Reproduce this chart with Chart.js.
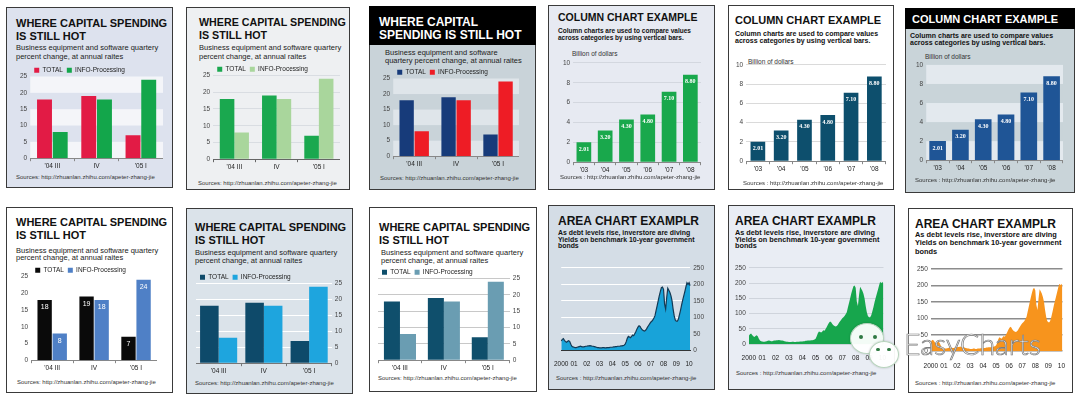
<!DOCTYPE html>
<html lang="en">
<head>
  <meta charset="UTF-8" />
  <title>Where capital spending is still hot - chart styles</title>
  <script src="https://cdn.jsdelivr.net/npm/chart.js"></script>
  <style>
    body {
      margin: 0;
      width: 1080px;
      height: 400px;
      overflow: hidden;
      position: relative;
      background: #fff;
      font-family: Arial, "Liberation Sans", sans-serif;
      color: #111;
    }
    .panel { position: absolute; box-sizing: border-box; border: 1px solid #3a3a3a; }
    .band { position: absolute; background: #000; }
    .t { position: absolute; white-space: nowrap; }
    .title { font-weight: bold; font-size: 11px; line-height: 13px; color: #111; }
    .sub { font-size: 7.5px; line-height: 9px; color: #222; }
    .bold { font-weight: bold; color: #111; }
    .unit { font-size: 6.5px; line-height: 7px; color: #333; }
    .src { font-size: 6px; line-height: 7px; color: #333; }
    .box { position: absolute; }
    .bubble { position: absolute; border-radius: 50%; background: rgba(255,255,255,0.95); border: 1px solid #b7d3bd; box-shadow: 0 0 2px rgba(0,0,0,0.25); }
    .eye { position: absolute; border-radius: 50%; background: #2f7a43; }
    .brand { position: absolute; left: 904px; top: 327px; font-family: Lato, "Open Sans", sans-serif; font-weight: 300; font-size: 28.5px; line-height: 34px; color: #fff; -webkit-text-stroke: 0.7px #7a7a7a; }
  </style>
</head>
<body>

  <!-- row 1 -->
  <div class="panel" style="left:6px;top:7px;width:167px;height:181px;background:#dde2ee"></div>
  <div class="t title" style="left:16px;top:17px">WHERE CAPITAL SPENDING<br>IS STILL HOT</div>
  <div class="t sub" style="left:16px;top:42.5px">Business equipment and software quartery<br>percent change, at annual raites</div>
  <div class="box" style="left:17px;top:63px;width:146px;height:108px"><canvas id="c1"></canvas></div>
  <div class="t src" style="left:16px;top:174px">Sources: http://zhuanlan.zhihu.com/apeter-zhang-jie</div>

  <div class="panel" style="left:186px;top:7px;width:164px;height:183px;background:#eef0f2"></div>
  <div class="t title" style="left:199px;top:16px;font-size:10.7px">WHERE CAPITAL SPENDING<br>IS STILL HOT</div>
  <div class="t sub" style="left:199px;top:43px">Business equipment and software quartery<br>percent change, at annual raites</div>
  <div class="box" style="left:200px;top:62px;width:140px;height:110px"><canvas id="c2"></canvas></div>
  <div class="t src" style="left:198px;top:179.5px">Sources: http://zhuanlan.zhihu.com/apeter-zhang-jie</div>

  <div class="panel" style="left:369px;top:6px;width:167px;height:184px;background:#c9d3d9"></div>
  <div class="band" style="left:369px;top:6px;width:167px;height:39px"></div>
  <div class="t title" style="left:379px;top:15.7px;font-size:12px;line-height:13.5px;color:#fff">WHERE CAPITAL<br>SPENDING IS STILL HOT</div>
  <div class="t sub" style="left:385px;top:49px;line-height:8px">Business equipment and software<br>quartery percent change, at annual raites</div>
  <div class="box" style="left:380px;top:64.5px;width:139px;height:104px"><canvas id="c3"></canvas></div>
  <div class="t src" style="left:380px;top:174.5px">Sources: http://zhuanlan.zhihu.com/apeter-zhang-jie</div>

  <div class="panel" style="left:548px;top:5px;width:167px;height:185px;background:#e7eaf2"></div>
  <div class="t title" style="left:558px;top:11px;font-size:10.5px">COLUMN CHART EXAMPLE</div>
  <div class="t sub bold" style="left:558px;top:27px;font-size:6.5px;line-height:7px">Column charts are used to compare values<br>across categories by using vertical bars.</div>
  <div class="t unit" style="left:572px;top:49.5px">Billion of dollars</div>
  <div class="box" style="left:560px;top:56px;width:141px;height:119px"><canvas id="c4"></canvas></div>
  <div class="t src" style="left:560px;top:173.5px">Sources : http://zhuanlan.zhihu.com/apeter-zhang-jie</div>

  <div class="panel" style="left:728px;top:5px;width:166px;height:185px;background:#fff"></div>
  <div class="t title" style="left:735px;top:14px">COLUMN CHART EXAMPLE</div>
  <div class="t sub bold" style="left:735px;top:29.5px;font-size:7px;line-height:7px">Column charts are used to compare values<br>across categories by using vertical bars.</div>
  <div class="t unit" style="left:748px;top:58px">Billion of dollars</div>
  <div class="box" style="left:733px;top:58px;width:153px;height:116px"><canvas id="c5"></canvas></div>
  <div class="t src" style="left:743px;top:179.5px">Sources : http://zhuanlan.zhihu.com/apeter-zhang-jie</div>

  <div class="panel" style="left:905px;top:8px;width:170px;height:185px;background:#c9d4d9"></div>
  <div class="band" style="left:905px;top:8px;width:170px;height:21px"></div>
  <div class="t title" style="left:912px;top:12.6px;color:#fff">COLUMN CHART EXAMPLE</div>
  <div class="t sub bold" style="left:910px;top:31.5px;font-size:7px;line-height:7px">Column charts are used to compare values<br>across categories by using vertical bars.</div>
  <div class="t unit" style="left:925px;top:52.5px">Billion of dollars</div>
  <div class="box" style="left:913px;top:58px;width:150px;height:115px"><canvas id="c6"></canvas></div>
  <div class="t src" style="left:915px;top:177px">Sources : http://zhuanlan.zhihu.com/apeter-zhang-jie</div>

  <!-- row 2 -->
  <div class="panel" style="left:6px;top:207px;width:167px;height:186px;background:#fff"></div>
  <div class="t title" style="left:16px;top:215.5px">WHERE CAPITAL SPENDING<br>IS STILL HOT</div>
  <div class="t sub" style="left:16px;top:246.5px;line-height:7.5px">Business equipment and software quartery<br>percent change, at annual raites</div>
  <div class="box" style="left:18px;top:262.75px;width:139px;height:110px"><canvas id="c7"></canvas></div>
  <div class="t src" style="left:17px;top:379px">Sources: http://zhuanlan.zhihu.com/apeter-zhang-jie</div>

  <div class="panel" style="left:186px;top:208px;width:167px;height:186px;background:#dbe3ea"></div>
  <div class="t title" style="left:195px;top:220.5px">WHERE CAPITAL SPENDING<br>IS STILL HOT</div>
  <div class="t sub" style="left:195px;top:249px;line-height:8px">Business equipment and software quartery<br>percent change, at annual raites</div>
  <div class="box" style="left:196px;top:269.5px;width:149px;height:106px"><canvas id="c8"></canvas></div>
  <div class="t src" style="left:195px;top:380px">Sources: http://zhuanlan.zhihu.com/apeter-zhang-jie</div>

  <div class="panel" style="left:369px;top:207px;width:168px;height:185px;background:#fff"></div>
  <div class="t title" style="left:379px;top:220.5px">WHERE CAPITAL SPENDING<br>IS STILL HOT</div>
  <div class="t sub" style="left:381px;top:249px;line-height:8px">Business equipment and software quartery<br>percent change, at annual raites</div>
  <div class="box" style="left:378px;top:264.5px;width:145px;height:108px"><canvas id="c9"></canvas></div>
  <div class="t src" style="left:378px;top:375px">Sources: http://zhuanlan.zhihu.com/apeter-zhang-jie</div>

  <div class="panel" style="left:548px;top:205px;width:167px;height:185px;background:#d4dde6"></div>
  <div class="t title" style="left:558px;top:214.7px;font-size:12px">AREA CHART EXAMPLR</div>
  <div class="t sub bold" style="left:558px;top:229.8px;font-size:6.9px;line-height:6.7px">As debt levels rise, inverstore are diving<br>Yields on benchmark 10-year government<br>bonds</div>
  <div class="box" style="left:552px;top:261px;width:155px;height:109px"><canvas id="c10"></canvas></div>
  <div class="t src" style="left:556px;top:375px">Sources : http://zhuanlan.zhihu.com/apeter-zhang-jie</div>

  <div class="panel" style="left:728px;top:205px;width:167px;height:185px;background:#e9edf4"></div>
  <div class="t title" style="left:735px;top:214.7px;font-size:12px">AREA CHART EXAMPLR</div>
  <div class="t sub bold" style="left:735px;top:229.8px;font-size:7.3px;line-height:6.7px">As debt levels rise, inverstore are diving<br>Yields on benchmark 10-year government<br>bonds</div>
  <div class="box" style="left:732px;top:261px;width:156px;height:103px"><canvas id="c11"></canvas></div>
  <div class="t src" style="left:736px;top:369.5px">Sources : http://zhuanlan.zhihu.com/apeter-zhang-jie</div>

  <div class="panel" style="left:908px;top:208px;width:165px;height:185px;background:#fff"></div>
  <div class="t title" style="left:915px;top:217.7px;font-size:12px">AREA CHART EXAMPLR</div>
  <div class="t sub bold" style="left:915px;top:231px;font-size:7.4px;line-height:8.3px">As debt levels rise, inverstore are diving<br>Yields on benchmark 10-year government<br>bonds</div>
  <div class="box" style="left:914px;top:262px;width:154px;height:111px"><canvas id="c12"></canvas></div>
  <div class="t src" style="left:915px;top:380px">Sources : http://zhuanlan.zhihu.com/apeter-zhang-jie</div>

  <!-- watermark -->
  <div class="bubble" style="left:850px;top:323px;width:32px;height:29px"></div>
  <div class="eye" style="left:859px;top:334.5px;width:4px;height:4px"></div>
  <div class="eye" style="left:873px;top:334.5px;width:4px;height:4px"></div>
  <div class="bubble" style="left:869px;top:341px;width:28px;height:25px"></div>
  <div class="eye" style="left:876px;top:347.5px;width:3.5px;height:3.5px"></div>
  <div class="eye" style="left:887px;top:347.5px;width:3.5px;height:3.5px"></div>
  <div class="brand">EasyCharts</div>

<script>
  // quarterly capital spending, percent change
  const quarters = ["'04 III", "IV", "'05 I"];
  const totalChange = [18, 19, 7];
  const infoChange = [8, 18, 24];

  // column chart, billion of dollars
  const years = ["'03", "'04", "'05", "'06", "'07", "'08"];
  const spending = [2.01, 3.20, 4.30, 4.80, 7.10, 8.80];

  // area chart, monthly Jan 2000 - Feb 2010
  const yearTicks = ["2000", "01", "02", "03", "04", "05", "06", "07", "08", "09", "10"];
  const yieldValues = [
    28, 33, 35, 30, 26, 24, 27, 29, 26, 18, 12, 10,
    9, 8, 8, 9, 10, 11, 12, 11, 10, 10, 11, 12,
    12, 13, 13, 14, 13, 12, 12, 11, 10, 9, 8, 8,
    7, 7, 7, 8, 8, 7, 7, 8, 8, 8, 9, 9,
    9, 10, 10, 11, 11, 12, 12, 12, 13, 13, 14, 15,
    18, 26, 36, 42, 40, 38, 42, 46, 44, 50, 56, 64,
    70, 74, 72, 66, 62, 60, 58, 60, 64, 70, 75, 80,
    85, 88, 92, 98, 105, 120, 135, 150, 165, 178, 190, 192,
    185, 140, 125, 160, 188, 182, 175, 165, 150, 125, 105, 92,
    88, 88, 95, 108, 122, 138, 152, 165, 178, 192, 205, 200,
    205, 196
  ];
  const yieldMonths = [];
  for (let i = 0; i < yieldValues.length; i++) {
    yieldMonths.push((2000 + Math.floor(i / 12)) + "-" + (i % 12 + 1));
  }

  Chart.defaults.font.family = 'Arial, "Liberation Sans", sans-serif';
  Chart.defaults.color = "#333";

  // alternating horizontal bands behind the plot
  const bandPlugin = {
    id: "bands",
    beforeDraw(chart, args, opts) {
      if (!opts.color) return;
      const { ctx, chartArea: a, scales: { y } } = chart;
      ctx.save();
      ctx.fillStyle = opts.color;
      for (let v = 0; v < y.max; v += opts.step * 2) {
        const top = y.getPixelForValue(v + opts.step);
        const bottom = y.getPixelForValue(v);
        ctx.fillRect(a.left, top, a.right - a.left, bottom - top);
      }
      ctx.restore();
    }
  };

  // value written inside the top of each bar
  const valueLabelPlugin = {
    id: "valueLabels",
    afterDatasetsDraw(chart, args, opts) {
      if (!opts.font) return;
      const ctx = chart.ctx;
      ctx.save();
      ctx.font = opts.font;
      ctx.fillStyle = opts.color;
      ctx.textAlign = "center";
      ctx.textBaseline = "middle";
      chart.data.datasets.forEach((ds, i) => {
        chart.getDatasetMeta(i).data.forEach((bar, j) => {
          ctx.fillText(ds.data[j].toFixed(opts.decimals), bar.x, bar.y + opts.offset);
        });
      });
      ctx.restore();
    }
  };

  Chart.register(bandPlugin, valueLabelPlugin);

  // chart.js legend keeps 10px of extra room, trim most of it
  const tightLegend = {
    id: "tightLegend",
    beforeInit(chart) {
      const legend = chart.legend;
      const fit = legend.fit;
      legend.fit = function () {
        fit.call(this);
        this.height -= 7;
      };
    }
  };

  const tickFont = { size: 6.5 };

  function quarterChart(id, o) {
    return new Chart(document.getElementById(id), {
      type: "bar",
      data: {
        labels: quarters,
        datasets: [
          { label: "TOTAL", data: totalChange, backgroundColor: o.colors[0] },
          { label: "INFO-Processing", data: infoChange, backgroundColor: o.colors[1] }
        ]
      },
      plugins: [tightLegend],
      options: {
        responsive: true,
        maintainAspectRatio: false,
        animation: false,
        datasets: { bar: { categoryPercentage: o.cat, barPercentage: o.bar } },
        plugins: {
          legend: {
            align: "start",
            fullSize: false,
            labels: { boxWidth: 5, boxHeight: 5, padding: 4, color: "#222", font: tickFont }
          },
          tooltip: { enabled: false },
          bands: o.bands || false,
          valueLabels: o.labels || false
        },
        scales: {
          x: {
            grid: { drawOnChartArea: false, tickLength: 3, color: o.base || "#888" },
            border: { color: o.base || "#888" },
            ticks: { padding: 1, font: tickFont, color: "#222" }
          },
          y: {
            position: o.side || "left",
            min: 0,
            max: 25,
            ticks: { stepSize: 5, padding: 3, font: tickFont, color: "#444" },
            grid: { display: !!o.grid, color: o.grid, drawTicks: false },
            border: { display: false }
          }
        }
      }
    });
  }

  function columnChart(id, o) {
    return new Chart(document.getElementById(id), {
      type: "bar",
      data: {
        labels: years,
        datasets: [{ label: "Billion of dollars", data: spending, backgroundColor: o.color }]
      },
      options: {
        responsive: true,
        maintainAspectRatio: false,
        animation: false,
        datasets: { bar: { categoryPercentage: o.cat, barPercentage: 1 } },
        plugins: {
          legend: { display: false },
          tooltip: { enabled: false },
          bands: o.bands || false,
          valueLabels: { font: 'bold 6px "Times New Roman", "Liberation Serif", serif', color: "#fff", decimals: 2, offset: 7 }
        },
        scales: {
          x: {
            grid: { drawOnChartArea: false, tickLength: 3, color: "#888" },
            border: { color: "#888" },
            ticks: { padding: 1, font: tickFont, color: "#222" }
          },
          y: {
            min: 0,
            max: 10,
            ticks: { stepSize: 2, padding: 3, font: tickFont, color: "#444" },
            grid: { display: !!o.grid, color: o.grid, drawTicks: false },
            border: { display: false }
          }
        }
      }
    });
  }

  function yieldChart(id, o) {
    return new Chart(document.getElementById(id), {
      type: "line",
      data: {
        labels: yieldMonths,
        datasets: [{
          data: yieldValues,
          fill: "origin",
          backgroundColor: o.fill,
          borderColor: o.line || o.fill,
          borderWidth: o.lineWidth || 0,
          pointRadius: 0,
          tension: 0
        }]
      },
      options: {
        responsive: true,
        maintainAspectRatio: false,
        animation: false,
        plugins: { legend: { display: false }, tooltip: { enabled: false } },
        scales: {
          x: {
            grid: { display: false },
            border: { display: !!o.base, color: o.base },
            ticks: {
              autoSkip: false,
              maxRotation: 0,
              padding: o.xpad,
              font: tickFont,
              color: "#222",
              callback: (v, i) => (i % 12 === 0 ? yearTicks[i / 12] : null)
            }
          },
          y: {
            position: o.side,
            min: 0,
            max: 250,
            ticks: { stepSize: 50, padding: 3, font: tickFont, color: "#444" },
            grid: { color: o.grid, lineWidth: o.gridWidth || 1, drawTicks: false },
            border: { display: false }
          }
        }
      }
    });
  }

  quarterChart("c1", { colors: ["#e21b45", "#13a64b"], cat: 0.71, bar: 0.95, bands: { color: "#f4f5f9", step: 5 } });
  quarterChart("c2", { colors: ["#1aa84f", "#a9d69c"], cat: 0.69, bar: 1, grid: "#d9dde2", base: "#666" });
  quarterChart("c3", { colors: ["#173b7a", "#ee1c25"], cat: 0.72, bar: 0.95, bands: { color: "#dfe5ea", step: 5 } });

  columnChart("c4", { color: "#19a84c", cat: 0.69, grid: "#d3d7df" });
  columnChart("c5", { color: "#0d4f6d", cat: 0.63, grid: "#dadada" });
  columnChart("c6", { color: "#1f5596", cat: 0.73, bands: { color: "#e3e9ee", step: 2 } });

  quarterChart("c7", { colors: ["#0a0a0a", "#4f80c6"], cat: 0.72, bar: 0.95,
    labels: { font: "7px Arial, 'Liberation Sans', sans-serif", color: "#fff", decimals: 0, offset: 7.5 } });
  quarterChart("c8", { colors: ["#0e4a6a", "#1ea5de"], cat: 0.82, bar: 1, side: "right", grid: "#ffffff", base: "#777" });
  quarterChart("c9", { colors: ["#0f4f6c", "#6a9db2"], cat: 0.73, bar: 1, side: "right", grid: "#c8c8c8" });

  yieldChart("c10", { fill: "#18a3d9", line: "#143a55", lineWidth: 1.2, side: "right", grid: "#ffffff", base: "#333", xpad: 2 });
  yieldChart("c11", { fill: "#17a64d", side: "left", grid: "#cfd4dc", xpad: 2 });
  yieldChart("c12", { fill: "#f7941d", side: "left", grid: "#8c8c8c", gridWidth: 1.5, xpad: 3 });
</script>
</body>
</html>
